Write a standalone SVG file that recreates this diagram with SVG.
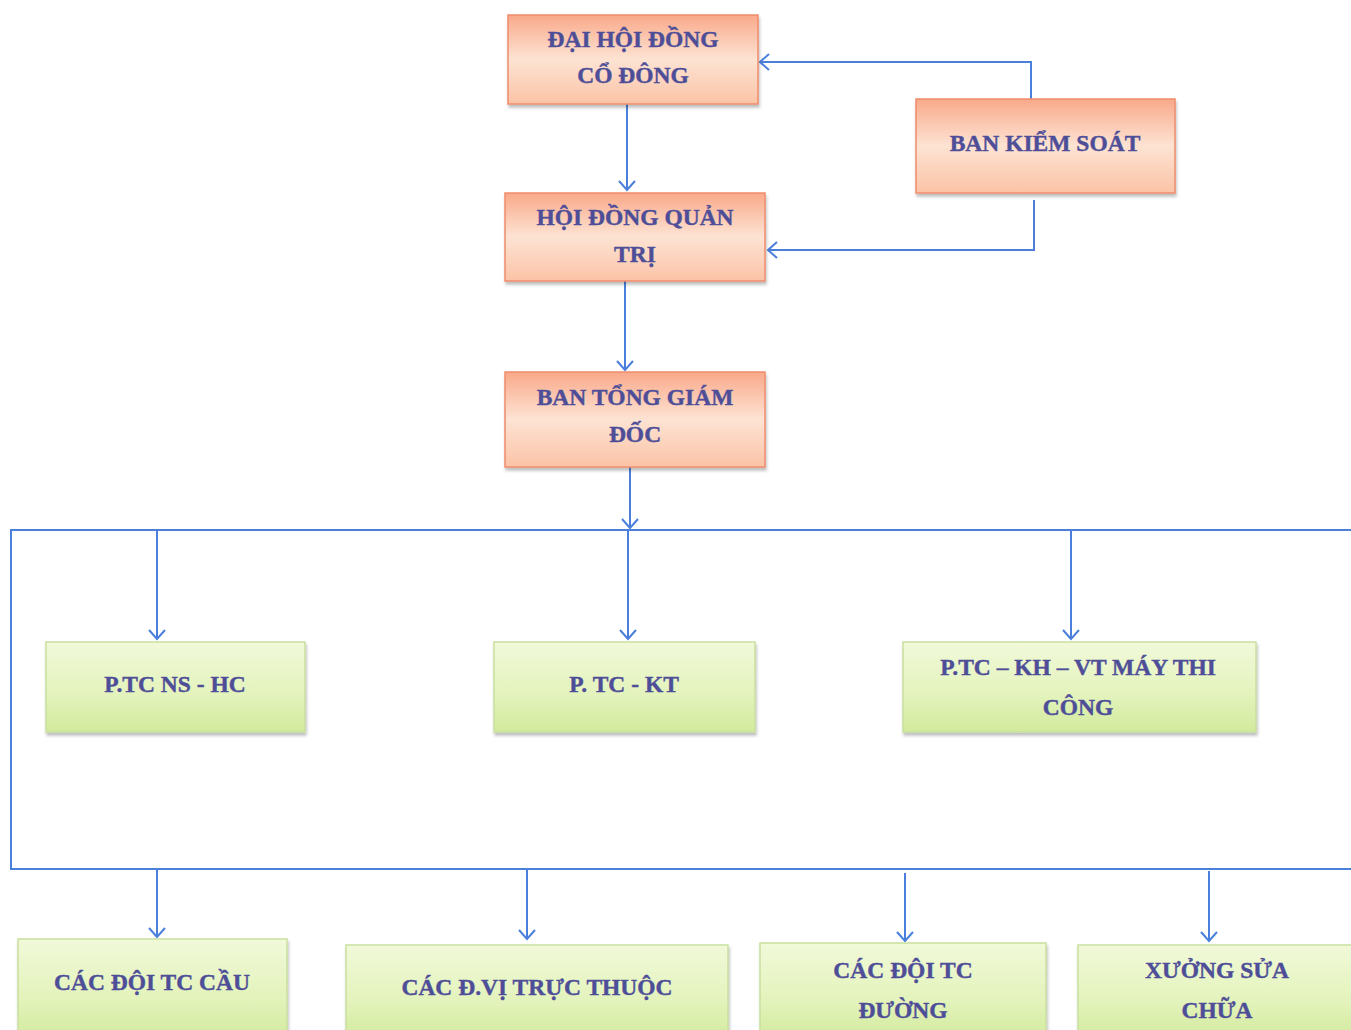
<svg xmlns="http://www.w3.org/2000/svg" width="1351" height="1030" viewBox="0 0 1351 1030">
<defs>
<linearGradient id="gO" x1="0" y1="0" x2="0" y2="1">
<stop offset="0" stop-color="#f9a98a"/>
<stop offset="0.5" stop-color="#fde3d3"/>
<stop offset="1" stop-color="#fbc3a6"/>
</linearGradient>
<linearGradient id="gG" x1="0" y1="0" x2="0" y2="1">
<stop offset="0" stop-color="#f1f9d9"/>
<stop offset="0.6" stop-color="#e3f3bb"/>
<stop offset="1" stop-color="#d2ea9c"/>
</linearGradient>
<filter id="sh" x="-5%" y="-5%" width="110%" height="120%">
<feDropShadow dx="1" dy="3" stdDeviation="1.5" flood-color="#000" flood-opacity="0.25"/>
</filter>
<marker id="ar" markerWidth="24" markerHeight="24" refX="12" refY="12" orient="auto" markerUnits="userSpaceOnUse">
<path d="M3,4 L12,12 L3,20" fill="none" stroke="#4a7fdb" stroke-width="2"/>
</marker>
<style>
.o{fill:url(#gO);stroke:#f08c6c;stroke-width:1.5;filter:url(#sh)}
.g{fill:url(#gG);stroke:#c9df9f;stroke-width:1.5;filter:url(#sh)}
.t{font-family:"Liberation Serif","Times New Roman",serif;font-weight:bold;font-size:23.5px;fill:#4e4e98;stroke:#4e4e98;stroke-width:0.4;text-anchor:middle}
.c{fill:none;stroke:#4a7fdb;stroke-width:2}
</style>
</defs>
<rect width="1351" height="1030" fill="#ffffff"/>
<g id="connectors">
<path class="c" d="M627,104 L627,190" marker-end="url(#ar)"/>
<path class="c" d="M1031,99 L1031,62 L760,62" marker-end="url(#ar)"/>
<path class="c" d="M1034,200 L1034,250 L768,250" marker-end="url(#ar)"/>
<path class="c" d="M625,281 L625,370" marker-end="url(#ar)"/>
<path class="c" d="M630,467 L630,528" marker-end="url(#ar)"/>
<path class="c" d="M1351,530 L11,530 L11,869 L1351,869"/>
<path class="c" d="M157,530 L157,639" marker-end="url(#ar)"/>
<path class="c" d="M628,530 L628,639" marker-end="url(#ar)"/>
<path class="c" d="M1071,530 L1071,639" marker-end="url(#ar)"/>
<path class="c" d="M157,869 L157,937" marker-end="url(#ar)"/>
<path class="c" d="M527,869 L527,939" marker-end="url(#ar)"/>
<path class="c" d="M905,873 L905,941" marker-end="url(#ar)"/>
<path class="c" d="M1209,871 L1209,941" marker-end="url(#ar)"/>
</g>
<g id="dai-hoi-dong-co-dong">
<rect class="o" x="508" y="15" width="250" height="89"/>
<text class="t" x="633" y="47">ĐẠI HỘI ĐỒNG</text>
<text class="t" x="633" y="83">CỔ ĐÔNG</text>
</g>
<g id="ban-kiem-soat">
<rect class="o" x="916" y="99" width="259" height="94"/>
<text class="t" x="1045" y="151">BAN KIỂM SOÁT</text>
</g>
<g id="hoi-dong-quan-tri">
<rect class="o" x="505" y="193" width="260" height="88"/>
<text class="t" x="635" y="225">HỘI ĐỒNG QUẢN</text>
<text class="t" x="635" y="262">TRỊ</text>
</g>
<g id="ban-tong-giam-doc">
<rect class="o" x="505" y="372" width="260" height="95"/>
<text class="t" x="635" y="405">BAN TỔNG GIÁM</text>
<text class="t" x="635" y="442">ĐỐC</text>
</g>
<g id="ptc-ns-hc">
<rect class="g" x="46" y="642" width="259" height="90"/>
<text class="t" x="175" y="692">P.TC NS - HC</text>
</g>
<g id="ptc-kt">
<rect class="g" x="494" y="642" width="261" height="90"/>
<text class="t" x="624" y="692">P. TC - KT</text>
</g>
<g id="ptc-kh-vt">
<rect class="g" x="903" y="642" width="353" height="90"/>
<text class="t" x="1078" y="675">P.TC – KH – VT MÁY THI</text>
<text class="t" x="1078" y="715">CÔNG</text>
</g>
<g id="cac-doi-tc-cau">
<rect class="g" x="18" y="939" width="269" height="100"/>
<text class="t" x="152" y="990">CÁC ĐỘI TC CẦU</text>
</g>
<g id="cac-dv-truc-thuoc">
<rect class="g" x="346" y="945" width="382" height="95"/>
<text class="t" x="537" y="995">CÁC Đ.VỊ TRỰC THUỘC</text>
</g>
<g id="cac-doi-tc-duong">
<rect class="g" x="760" y="943" width="286" height="97"/>
<text class="t" x="903" y="978">CÁC ĐỘI TC</text>
<text class="t" x="903" y="1018">ĐƯỜNG</text>
</g>
<g id="xuong-sua-chua">
<rect class="g" x="1078" y="945" width="280" height="95"/>
<text class="t" x="1217" y="978">XƯỞNG SỬA</text>
<text class="t" x="1217" y="1018">CHỮA</text>
</g>
</svg>
